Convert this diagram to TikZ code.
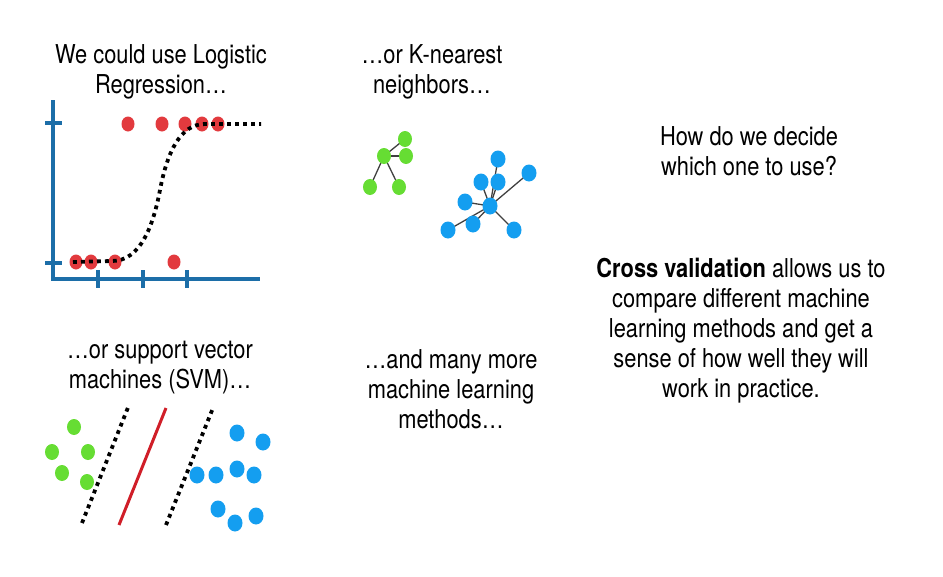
\documentclass[tikz,border=0pt]{standalone}
\usepackage{fontspec}
\setmainfont{TeX Gyre Heros}[FakeStretch=0.84]
\usetikzlibrary{shapes.geometric,backgrounds}
\definecolor{axisblue}{RGB}{28,110,168}
\definecolor{dotred}{RGB}{226,58,62}
\definecolor{dotgreen}{RGB}{102,221,51}
\definecolor{dotblue}{RGB}{20,158,240}
\definecolor{svmred}{RGB}{208,30,40}
\begin{document}
\begin{tikzpicture}[x=1pt,y=-1pt,
  txt/.style={align=center, font=\fontsize{26}{30}\selectfont, inner sep=0pt, anchor=base},
  rdot/.style={ellipse, fill=dotred, inner sep=0pt, minimum width=13pt, minimum height=15pt},
  gdot/.style={ellipse, fill=dotgreen, inner sep=0pt, minimum width=14pt, minimum height=16pt},
  bdot/.style={ellipse, fill=dotblue, inner sep=0pt, minimum width=15pt, minimum height=17pt},
  axisline/.style={draw=axisblue, line width=3.5pt},
  dotline/.style={draw=black, line width=3.8pt, dash pattern=on 3.8pt off 4.2pt},
  link/.style={draw=black!75, line width=1.3pt},
  sepline/.style={draw=svmred, line width=3pt}]
\useasboundingbox (0,0) rectangle (943,576);

% ---------- texts (anchor = baseline of the last line) ----------
\node[txt] (tlog) at (161,93) {We could use Logistic\\Regression…};
\node[txt] (tknn) at (432,93) {…or K-nearest\\neighbors…};
\node[txt] (tq) at (749,175) {How do we decide\\which one to use?};
\node[txt] (tcv) at (741,397) {\textbf{Cross validation} allows us to\\compare different machine\\learning methods and get a\\sense of how well they will\\work in practice.};
\node[txt] (tsvm) at (160,388) {…or support vector\\machines (SVM)…};
\node[txt] (tmore) at (451,428) {…and many more\\machine learning\\methods…};

% ---------- logistic regression plot ----------
\coordinate (ytop) at (53,100);
\coordinate (orig) at (53,279);
\coordinate (xend) at (260,279);
\draw[axisline] (ytop) -- (orig) -- (xend);
\draw[axisline] (45,123) -- (62,123);
\draw[axisline] (45,263) -- (62,263);
\foreach \tx in {98,143,187} \draw[axisline] (\tx,270) -- (\tx,288);

\node[rdot] (r1) at (128,124) {};
\node[rdot] (r2) at (162,124) {};
\node[rdot] (r3) at (185,124) {};
\node[rdot] (r4) at (202,124) {};
\node[rdot] (r5) at (218,124) {};
\node[rdot] (r6) at (76,262) {};
\node[rdot] (r7) at (91,262) {};
\node[rdot] (r8) at (115,262) {};
\node[rdot] (r9) at (174,262) {};

\draw[dotline] (73,262) -- (112,261) .. controls (140,261) and (153,227) .. (160,190)
  .. controls (167,153) and (180,124) .. (205,124) -- (261,124);

% ---------- k-nearest neighbours ----------
\node[gdot] (g0) at (384,156) {};
\node[gdot] (g1) at (405,139) {};
\node[gdot] (g2) at (406,156) {};
\node[gdot] (g3) at (370,187) {};
\node[gdot] (g4) at (399,187) {};

\node[bdot] (b0) at (490,206) {};
\node[bdot] (b1) at (498,159) {};
\node[bdot] (b2) at (529,173) {};
\node[bdot] (b3) at (481,182) {};
\node[bdot] (b4) at (498,182) {};
\node[bdot] (b5) at (465,202) {};
\node[bdot] (b6) at (473,224) {};
\node[bdot] (b7) at (448,230) {};
\node[bdot] (b8) at (514,230) {};

\begin{scope}[on background layer]
  \foreach \n in {g1,g2,g3,g4} \draw[link] (g0.center) -- (\n.center);
  \foreach \n in {b1,b2,b3,b4,b5,b6,b7,b8} \draw[link] (b0.center) -- (\n.center);
\end{scope}

% ---------- support vector machine ----------
\node[gdot] (s1) at (74,427) {};
\node[gdot] (s2) at (52,452) {};
\node[gdot] (s3) at (88,452) {};
\node[gdot] (s4) at (62,473) {};
\node[gdot] (s5) at (87,482) {};

\coordinate (m1a) at (82,523);
\coordinate (m1b) at (129,405);
\coordinate (ha) at (119,525);
\coordinate (hb) at (166,408);
\coordinate (m2a) at (166,525);
\coordinate (m2b) at (213,408);
\draw[dotline] (m1a) -- (m1b);
\draw[sepline] (ha) -- (hb);
\draw[dotline] (m2a) -- (m2b);

\node[bdot] (v1) at (237,433) {};
\node[bdot] (v2) at (263,442) {};
\node[bdot] (v3) at (197,475) {};
\node[bdot] (v4) at (216,475) {};
\node[bdot] (v5) at (237,469) {};
\node[bdot] (v6) at (254,475) {};
\node[bdot] (v7) at (218,509) {};
\node[bdot] (v8) at (235,523) {};
\node[bdot] (v9) at (256,516) {};
\end{tikzpicture}
\end{document}
